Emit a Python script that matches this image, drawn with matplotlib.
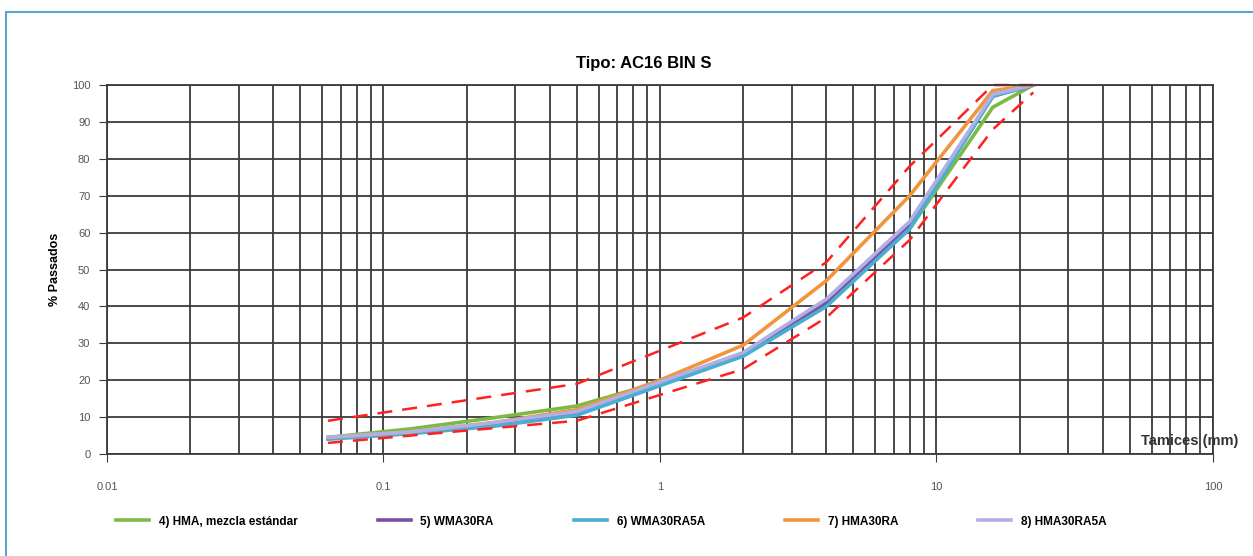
import matplotlib.pyplot as plt
from matplotlib.patches import Rectangle
from matplotlib.ticker import FixedLocator, LogLocator, NullFormatter

# tamices (mm)
sieves = [0.063, 0.125, 0.25, 0.5, 1, 2, 4, 8, 16, 22.4]

hma_std = [4.5, 6.8, 9.8, 13, 19.5, 27, 41, 61, 94, 100]
wma30ra = [4.3, 5.8, 8, 11, 19, 27, 41, 62, 97, 100]
wma30ra5a = [4, 5.5, 7.5, 10.5, 18.5, 26.5, 40, 61, 97, 100]
hma30ra = [4.5, 6, 8.5, 12, 20, 29.5, 47, 70, 98.5, 100]
hma30ra5a = [4.5, 6, 8.5, 11.5, 19.5, 27.5, 42, 63, 97.5, 100]

env_x = [0.063, 0.5, 2, 4, 8, 16, 22.4]
env_upper = [9, 19, 37, 52, 78, 100, 100]
env_lower = [3, 9, 23, 37, 58, 88, 98]

series = [
    ('4) HMA, mezcla estándar', hma_std, '#7cba45'),
    ('5) WMA30RA', wma30ra, '#7b4fa3'),
    ('6) WMA30RA5A', wma30ra5a, '#4aaed0'),
    ('7) HMA30RA', hma30ra, '#f0953e'),
    ('8) HMA30RA5A', hma30ra5a, '#b0b0e4'),
]

plt.rcParams['font.family'] = ['Liberation Sans', 'DejaVu Sans']

fig = plt.figure(figsize=(12.53, 5.56), dpi=100)
ax = fig.add_axes([0.0854, 0.1835, 0.8826, 0.6635])

grid_col = '#3a3a3a'
ax.set_xscale('log')
ax.set_xlim(0.01, 100)
ax.set_ylim(0, 100)
ax.xaxis.set_major_locator(FixedLocator([0.01, 0.1, 1, 10, 100]))
ax.xaxis.set_minor_locator(LogLocator(base=10, subs=range(2, 10)))
ax.xaxis.set_minor_formatter(NullFormatter())
ax.set_xticklabels(['0.01', '0.1', '1', '10', '100'])
ax.set_yticks(range(0, 101, 10))
ax.grid(which='both', axis='x', color=grid_col, lw=1.3)
ax.grid(which='major', axis='y', color=grid_col, lw=1.3)
ax.set_axisbelow(True)
ax.tick_params(axis='x', which='major', length=6, color=grid_col, pad=14,
               labelsize=8, labelcolor='#555555')
ax.tick_params(axis='x', which='minor', length=0)
ax.tick_params(axis='y', length=6, color=grid_col, labelsize=8,
               labelcolor='#555555', pad=6)
for s in ax.spines.values():
    s.set_color(grid_col)
    s.set_linewidth(1.3)

lines = []
for name, vals, col in series:
    ln, = ax.plot(sieves, vals, color=col, lw=2.6, label=name, solid_joinstyle='miter')
    lines.append(ln)

ax.plot(env_x, env_upper, color='#ff2020', lw=1.8, ls=(0, (6, 4)), clip_on=False)
ax.plot(env_x, env_lower, color='#ff2020', lw=1.8, ls=(0, (6, 4)), clip_on=False)

ax.set_title('Tipo: AC16 BIN S', fontsize=12, fontweight='bold', pad=12, x=0.485)
ax.set_ylabel('% Passados', fontsize=9, fontweight='bold', labelpad=8)
fig.text(0.9885, 0.207, 'Tamices (mm)', ha='right', va='center',
         fontsize=10.5, fontweight='bold', color='#333333')

fig.legend(handles=lines, loc='center', bbox_to_anchor=(0.488, 0.062), ncol=5,
           frameon=False, handlelength=2.8, columnspacing=6.8,
           prop={'size': 8.5, 'weight': 'bold'})

# marco del gráfico
fig.patches.append(Rectangle((6 / 1253, -0.1), 1.2, 1 - 12 / 556 + 0.1,
                             transform=fig.transFigure, fill=False,
                             edgecolor='#5aa6c6', lw=1.5))

fig.savefig('out.png', dpi=100)
